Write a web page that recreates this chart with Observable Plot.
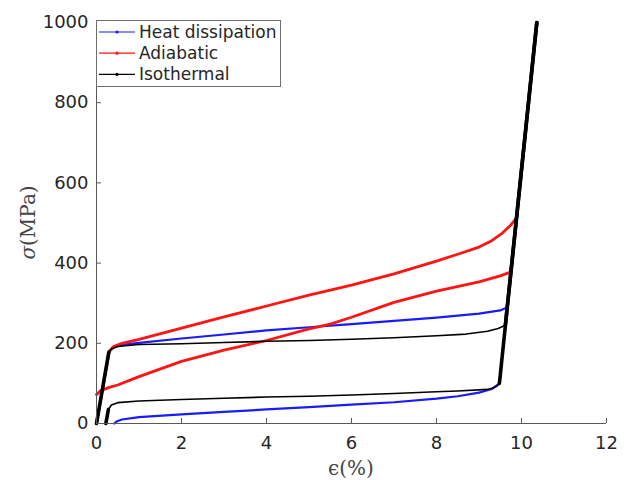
<!DOCTYPE html>
<html><head><meta charset="utf-8">
<script src="https://cdn.jsdelivr.net/npm/d3@7"></script>
<script src="https://cdn.jsdelivr.net/npm/@observablehq/plot@0.6"></script>
<style>body{margin:0;background:#fff}</style>
</head><body><div id="chart"></div>
<script>
const seriesNames = ["Heat dissipation", "Adiabatic", "Isothermal"];
const seriesColors = ["#1a1aff", "#ff1414", "#000000"];
const xTicks = [0, 2, 4, 6, 8, 10, 12];
const yTicks = [0, 200, 400, 600, 800, 1000];
const xLabel = "ϵ(%)";
const yLabel = "(MPa)";

// Heat dissipation (blue): loading branch then unloading branch
const heatLoadX = [0, 0.30, 0.40, 0.60, 1, 2, 3, 4, 5, 6, 7, 8, 9, 9.5, 9.67, 10.36];
const heatLoadY = [0, 178, 190, 196, 201, 212, 222, 232, 240, 248, 256, 264, 274, 282, 290, 1000];
const heatUnloadX = [10.36, 9.48, 9.3, 9, 8.5, 8, 7, 6, 5, 4, 3, 2, 1, 0.6, 0.47, 0.42];
const heatUnloadY = [1000, 100, 86, 77, 68, 62, 53, 47, 41, 35, 29, 23, 16, 10, 5, 0];

// Adiabatic (red)
const adiaLoadX = [0, 0.30, 0.40, 0.60, 1, 2, 3, 4, 5, 6, 7, 8, 8.5, 9, 9.3, 9.55, 9.75, 9.88, 10.36];
const adiaLoadY = [0, 180, 192, 200, 210, 238, 266, 293, 320, 345, 373, 405, 422, 440, 456, 475, 495, 512, 1000];
const adiaUnloadX = [10.36, 9.75, 9.5, 9, 8, 7, 6, 5.5, 5, 4, 3, 2, 1, 0.5, 0.3, 0.1, 0];
const adiaUnloadY = [1000, 378, 368, 353, 330, 302, 265, 248, 236, 207, 183, 155, 117, 96, 90, 82, 72];

// Isothermal (black)
const isoLoadX = [0, 0.29, 0.35, 0.5, 1, 2, 3, 4, 5, 6, 7, 8, 8.7, 9.2, 9.45, 9.62, 10.36];
const isoLoadY = [0, 178, 186, 192, 197, 199, 202, 205, 207, 210, 214, 219, 223, 230, 237, 245, 1000];
const isoUnloadX = [10.36, 9.48, 9.42, 9.3, 9.2, 8.5, 8, 7, 6, 5, 4, 3, 2, 1, 0.5, 0.35, 0.28, 0.22];
const isoUnloadY = [1000, 100, 93, 88, 85, 81, 79, 75, 71, 68, 66, 63, 60, 56, 52, 46, 35, 0];

function path(lx, ly, ux, uy) {
  return lx.map((x, i) => ({x, y: ly[i]})).concat(ux.map((x, i) => ({x, y: uy[i]})));
}
const heat = path(heatLoadX, heatLoadY, heatUnloadX, heatUnloadY);
const adia = path(adiaLoadX, adiaLoadY, adiaUnloadX, adiaUnloadY);
const iso = path(isoLoadX, isoLoadY, isoUnloadX, isoUnloadY);

// steep (elastic) segments of the isothermal curve, derived from its data
const isoSteep = [];
for (let i = 1; i < iso.length; i++) {
  const a = iso[i - 1], b = iso[i];
  if (a.x !== b.x && Math.abs((b.y - a.y) / (b.x - a.x)) > 300) isoSteep.push({x1: a.x, y1: a.y, x2: b.x, y2: b.y});
}

const axisColor = "#5a5a5a";
const chart = Plot.plot({
  width: 633, height: 480,
  marginLeft: 96, marginRight: 27, marginTop: 22, marginBottom: 57,
  x: {domain: [0, 12]},
  y: {domain: [0, 1000]},
  style: {fontFamily: "DejaVu Sans", fontSize: "18px", color: "#262626", background: "#fff"},
  marks: [
    Plot.line(heat, {x: "x", y: "y", stroke: seriesColors[0], strokeWidth: 2.2}),
    Plot.line(adia, {x: "x", y: "y", stroke: seriesColors[1], strokeWidth: 2.8}),
    Plot.line(iso, {x: "x", y: "y", stroke: seriesColors[2], strokeWidth: 1.6}),
    Plot.link(isoSteep, {x1: "x1", y1: "y1", x2: "x2", y2: "y2", stroke: seriesColors[2], strokeWidth: 3.6, strokeLinecap: "round"}),
    Plot.ruleX([0], {stroke: axisColor, strokeWidth: 1}),
    Plot.ruleY([0], {stroke: axisColor, strokeWidth: 1}),
    Plot.axisX({ticks: xTicks, tickSize: 0, tickPadding: 13, label: null, fontSize: 18, tickFormat: d => String(d), fill: "#262626"}),
    Plot.axisX({ticks: xTicks, tickSize: -5, text: null, label: null, stroke: axisColor}),
    Plot.axisY({ticks: yTicks, tickSize: 0, tickPadding: 8, label: null, fontSize: 18, tickFormat: d => String(d), fill: "#262626"}),
    Plot.axisY({ticks: yTicks, tickSize: -5, text: null, label: null, stroke: axisColor})
  ]
});
document.getElementById("chart").appendChild(chart);

const svg = d3.select(chart);
// x-axis label
svg.append("text")
  .attr("x", (96 + 606) / 2).attr("y", 468)
  .attr("text-anchor", "middle").attr("dominant-baseline", "central")
  .attr("font-family", "DejaVu Serif").attr("font-size", 20).attr("fill", "#444").text(xLabel);
// y-axis label with italic sigma
const yl = svg.append("text")
  .attr("transform", `translate(27.5,${(22 + 423) / 2}) rotate(-90)`)
  .attr("text-anchor", "middle").attr("dominant-baseline", "central")
  .attr("font-family", "DejaVu Serif").attr("font-size", 20).attr("fill", "#444");
yl.append("tspan").attr("font-style", "italic").text("σ");
yl.append("tspan").text(yLabel);

// legend
const lg = svg.append("g");
lg.append("rect").attr("x", 96.5).attr("y", 20.5).attr("width", 184).attr("height", 66)
  .attr("fill", "#fff").attr("stroke", "#6e6e6e").attr("stroke-width", 1);
seriesNames.forEach((name, i) => {
  const yy = 32 + i * 21.2;
  lg.append("line").attr("x1", 99).attr("x2", 135).attr("y1", yy).attr("y2", yy)
    .attr("stroke", seriesColors[i]).attr("stroke-width", 1.2);
  lg.append("circle").attr("cx", 117).attr("cy", yy).attr("r", 1.6).attr("fill", seriesColors[i]);
  lg.append("text").attr("x", 139).attr("y", yy).attr("dominant-baseline", "central")
    .attr("text-anchor", "start")
    .attr("font-family", "DejaVu Sans").attr("font-size", 17).attr("fill", "#262626").text(name);
});
</script>
</body></html>
